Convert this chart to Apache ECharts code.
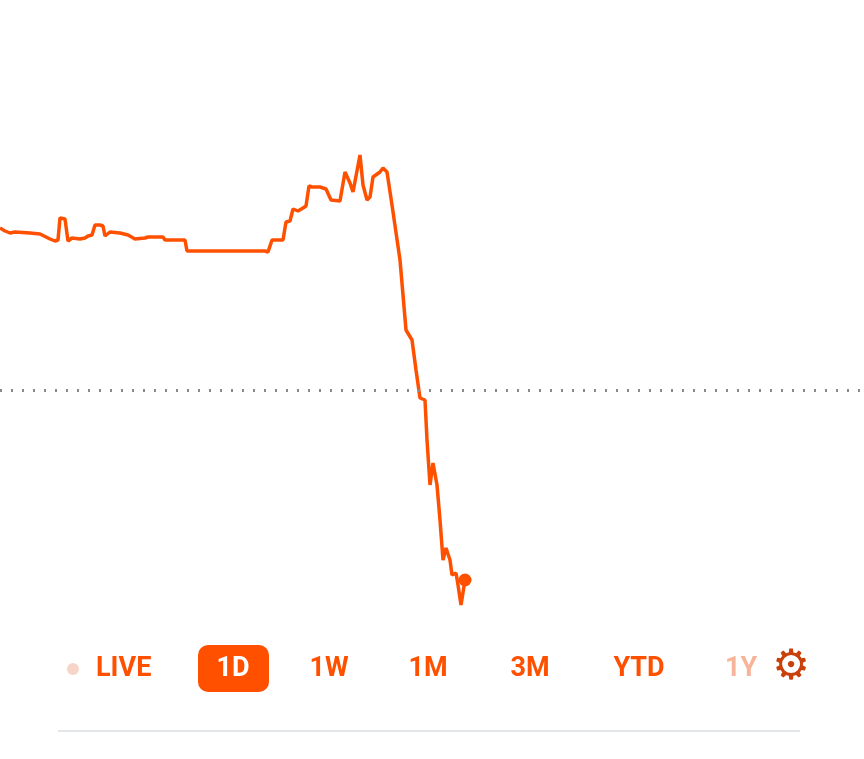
<!DOCTYPE html>
<html>
<head>
<meta charset="utf-8">
<script src="https://cdn.jsdelivr.net/npm/echarts@6/dist/echarts.min.js"></script>
<style>
  html, body { margin: 0; padding: 0; background: #fff; }
  #main { width: 864px; height: 759px; }
</style>
</head>
<body>
<div id="main"></div>
<script>
// time position (0..864) and price level (0..759, higher is up)
const times = [0,5,10,15,30,40,50,55,58,60,65,68,72,80,85,88,92,95,100,103,105,110,120,128,135,145,148,163,165,185,187,265,268,272,283,286,290,293,298,303,306,309,312,314,320,326,328,331,340,345,350,353,360,363,367,370,373,380,383,387,392,400,406,412,416,420,425,427,430,433,437,440,443,446,450,452,456,458,461,465];
const levels = [531,528,526,527,526,525,520,518,519,541,540,518,521,520,521,523,524,534,534,533,523,527,526,524,520,521,522,522,519,519,508,508,507,519,519,537,538,550,548,551,553,573,572,571,572,570,572,559,558,587,576,567,604,574,559,562,582,587,591,587,554,499,429,419,389,361,359,319,274,296,274,239,199,211,199,184,186,174,154,179];
const prevClose = 369;
const ranges = ['1D', '1W', '1M', '3M', 'YTD', '1Y'];
const rangeX = [233, 329, 428, 530, 639, 741];

const orange = '#ff5000';
const chart = echarts.init(document.getElementById('main'));

const graphics = [
  { type: 'circle', shape: { cx: 73, cy: 669, r: 6 }, style: { fill: '#f6d5c8' } },
  { type: 'text', x: 96, y: 669, style: { text: 'LIVE', fill: orange, font: 'bold 27px Roboto', textVerticalAlign: 'middle' } },
  { type: 'rect', shape: { x: 198, y: 645, width: 71, height: 47, r: 10 }, style: { fill: orange } },
  { type: 'text', x: 791, y: 668, style: { text: '⚙', fill: '#c8410a', font: 'bold 42px "DejaVu Sans"', textAlign: 'center', textVerticalAlign: 'middle' } },
  { type: 'line', shape: { x1: 58, y1: 731, x2: 800, y2: 731 }, style: { stroke: '#e3e6e8', lineWidth: 2 } }
];
ranges.forEach((r, i) => {
  graphics.push({
    type: 'text', x: rangeX[i], y: 669, z: 10,
    style: {
      text: r, font: 'bold 27px Roboto', textAlign: 'center', textVerticalAlign: 'middle',
      fill: i === 0 ? '#fff' : (r === '1Y' ? '#f7b49a' : orange)
    }
  });
});

chart.setOption({
  animation: false,
  grid: { left: 0, right: 0, top: 0, bottom: 0 },
  xAxis: { type: 'value', min: 0, max: 864, show: false },
  yAxis: { type: 'value', min: 0, max: 759, show: false },
  graphic: graphics,
  series: [{
    type: 'line',
    data: times.map((t, i) => [t, levels[i]]),
    symbol: 'none',
    lineStyle: { color: orange, width: 3.5 },
    markLine: {
      silent: true, symbol: 'none', label: { show: false },
      lineStyle: { type: [2, 9], color: '#8a8a8a', width: 3 },
      data: [{ yAxis: prevClose }]
    },
    markPoint: {
      symbol: 'circle', symbolSize: 13, label: { show: false },
      itemStyle: { color: orange },
      data: [{ coord: [times[times.length - 1], levels[levels.length - 1]] }]
    }
  }]
});
</script>
</body>
</html>
